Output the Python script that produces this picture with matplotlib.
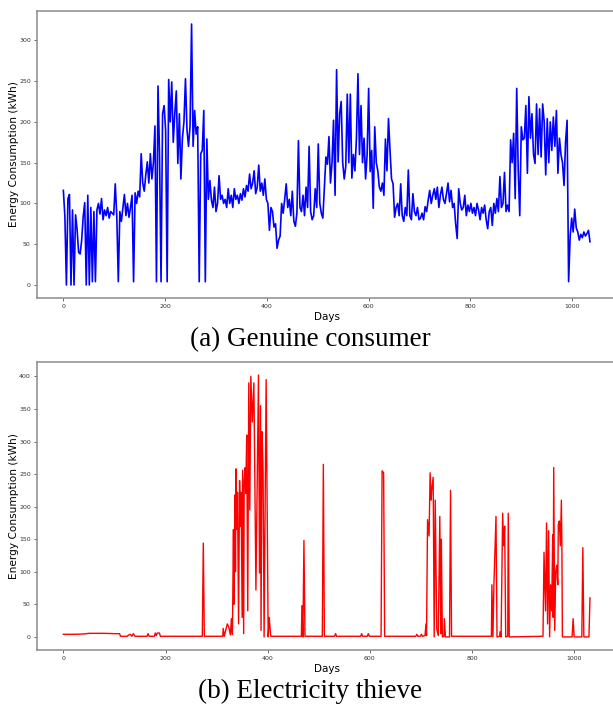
import numpy as np
import matplotlib
matplotlib.use("Agg")
import matplotlib.pyplot as plt

# genuine consumer, one reading every 3 days (day 0 .. 1035)
genuine_step = 3
genuine_kwh = [
    116, 84, 0, 106, 111, 0, 92, 0, 86, 68,
    40, 38, 55, 84, 101, 0, 110, 0, 95, 4,
    90, 4, 92, 100, 87, 106, 80, 92, 85, 95,
    82, 90, 88, 86, 124, 85, 4, 90, 78, 95,
    111, 85, 100, 83, 95, 110, 4, 113, 100, 115,
    108, 161, 125, 115, 135, 151, 125, 161, 130, 150,
    195, 4, 244, 160, 4, 210, 220, 190, 4, 252,
    200, 249, 175, 210, 238, 149, 210, 130, 180, 200,
    253, 190, 170, 195, 320, 170, 214, 185, 194, 4,
    161, 165, 214, 4, 179, 105, 128, 104, 95, 120,
    90, 100, 134, 105, 110, 100, 105, 95, 118, 100,
    110, 95, 118, 105, 110, 100, 112, 104, 118, 108,
    122, 115, 136, 118, 125, 140, 112, 120, 147, 115,
    125, 110, 130, 105, 100, 67, 95, 90, 71, 75,
    45, 55, 60, 100, 88, 105, 124, 95, 105, 85,
    115, 78, 72, 88, 177, 95, 90, 110, 85, 120,
    95, 170, 90, 80, 85, 118, 95, 173, 100, 88,
    82, 120, 157, 148, 182, 125, 150, 202, 110, 264,
    151, 210, 225, 150, 130, 145, 234, 150, 234, 131,
    160, 140, 180, 259, 160, 220, 150, 180, 130, 160,
    241, 139, 165, 94, 194, 150, 140, 120, 115, 125,
    110, 179, 140, 204, 165, 130, 124, 83, 95, 100,
    85, 124, 85, 78, 95, 85, 141, 85, 80, 112,
    90, 85, 95, 80, 82, 88, 80, 96, 90, 104,
    116, 100, 110, 118, 105, 120, 95, 110, 120, 105,
    100, 112, 125, 102, 116, 95, 100, 75, 57, 118,
    100, 92, 95, 110, 85, 98, 90, 100, 88, 95,
    85, 100, 92, 80, 95, 88, 98, 80, 69, 90,
    95, 73, 100, 88, 106, 90, 133, 95, 100, 138,
    90, 98, 90, 178, 150, 186, 106, 241, 140, 85,
    194, 178, 180, 220, 137, 231, 180, 210, 160, 149,
    222, 160, 216, 157, 222, 200, 135, 204, 150, 200,
    165, 206, 170, 214, 137, 180, 160, 150, 122, 175,
    202, 4, 59, 82, 65, 93, 70, 65, 55, 62,
    58, 65, 60, 63, 67, 53,
]
genuine_days = np.arange(len(genuine_kwh)) * genuine_step

# electricity thief: mostly flat, read as (day, kWh) break points
thief_days = [
    0, 20, 40, 50, 80, 100, 110, 112, 125, 128, 131, 134, 137, 140,
    164, 166, 168, 178, 180, 182, 184, 188, 190, 272, 274, 276,
    312, 313, 315, 321, 324, 327, 329, 331, 333, 334, 336, 337, 338,
    340, 341, 343, 345, 347, 348, 350, 351, 353, 354, 356, 357, 359,
    361, 363, 365, 367, 370, 373, 377, 382, 384, 386, 387, 389, 391,
    393, 397, 401, 403, 406, 466, 467, 469, 471, 473, 507, 509, 511,
    531, 533, 535, 582, 584, 586, 595, 597, 599, 622, 624, 627, 629,
    690, 692, 694, 699, 701, 703, 708, 710, 711, 713, 716, 718, 720,
    721, 724, 726, 728, 731, 734, 737, 739, 740, 742, 745, 746, 748,
    756, 758, 760, 838, 839, 841, 843, 847, 849, 854, 855, 857, 860,
    862, 864, 866, 870, 871, 873, 939, 941, 944, 946, 948, 950, 952,
    954, 956, 958, 959, 960, 962, 964, 966, 968, 969, 971, 973, 975,
    976, 977, 996, 998, 1000, 1015, 1017, 1019, 1029, 1031,
]
thief_kwh = [
    4, 4, 4.5, 5.5, 5.5, 5, 5, 1, 1, 3, 4, 1, 5, 1,
    1, 5, 1, 1, 6, 2, 6, 6, 1, 1, 144, 1,
    1, 13, 1, 20, 15, 3, 28, 4, 165, 50, 218, 100, 258,
    165, 222, 20, 240, 170, 222, 30, 256, 5, 240, 260, 220, 310,
    40, 390, 195, 400, 330, 390, 72, 402, 98, 355, 10, 315, 256,
    0, 395, 0, 30, 1, 1, 48, 0, 148, 1, 1, 265, 1,
    1, 5, 1, 1, 5, 1, 1, 5, 1, 1, 255, 252, 1,
    1, 4, 1, 1, 4, 1, 2, 20, 2, 180, 155, 252, 210,
    225, 245, 0, 210, 12, 2, 185, 5, 150, 0, 1, 28, 0,
    0, 225, 1, 1, 80, 0, 82, 185, 0, 1, 8, 0, 190,
    140, 170, 0, 1, 190, 0, 1, 130, 40, 175, 20, 163, 0,
    80, 40, 157, 30, 260, 10, 100, 110, 80, 173, 178, 140, 210,
    140, 0, 0, 28, 0, 0, 137, 0, 0, 60,
]

captions = ["(a) Genuine consumer", "(b) Electricity thieve"]

fig = plt.figure(figsize=(6.13, 7.06), dpi=100)
ax1 = fig.add_axes([0.0604, 0.5779, 0.945, 0.4065])
ax2 = fig.add_axes([0.0604, 0.0793, 0.945, 0.408])

ax1.plot(genuine_days, genuine_kwh, color="blue", lw=1.2)
ax2.plot(thief_days, thief_kwh, color="red", lw=1.0)

for ax in (ax1, ax2):
    ax.set_xticks([0, 200, 400, 600, 800, 1000])
    ax.set_xlabel("Days", fontsize=7.5, labelpad=2)
    ax.set_ylabel("Energy Consumption (kWh)", fontsize=7.6, labelpad=0)
    ax.tick_params(labelsize=4.5, length=2.5, width=0.6, colors="#555555",
                   labelcolor="#333333", pad=2)
    for s in ax.spines.values():
        s.set_color("#8c8c8c")
        s.set_linewidth(1.1)

ax1.set_yticks([0, 50, 100, 150, 200, 250, 300])
ax2.set_yticks([0, 50, 100, 150, 200, 250, 300, 350, 400])

fig.text(310 / 613, 1 - 340 / 706, captions[0], family="Liberation Serif",
         fontsize=19.5, ha="center", va="center")
fig.text(310 / 613, 1 - 691 / 706, captions[1], family="Liberation Serif",
         fontsize=19.5, ha="center", va="center")

fig.savefig("out.png", dpi=100)
